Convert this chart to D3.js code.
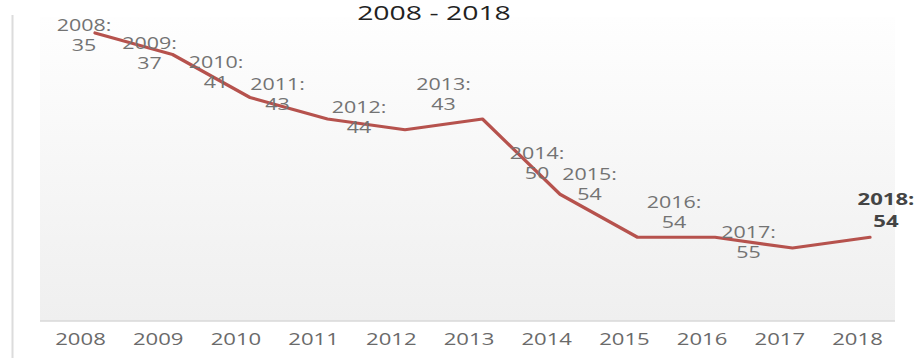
<!DOCTYPE html>
<html>
<head>
<meta charset="utf-8">
<script src="https://cdn.jsdelivr.net/npm/d3@7/dist/d3.min.js"></script>
<style>
  html, body { margin: 0; padding: 0; background: #ffffff; }
  svg { display: block; }
  text { font-family: "Open Sans", "Noto Sans", sans-serif; }
</style>
</head>
<body>
<svg id="chart" width="920" height="358"></svg>
<script>
// Ranking by year, 2008 - 2018
const years = [2008, 2009, 2010, 2011, 2012, 2013, 2014, 2015, 2016, 2017, 2018];
const ranks = [35, 37, 41, 43, 44, 43, 50, 54, 54, 55, 54];
const tickLabels = years.map(String);
const titleText = "2008 - 2018";

// Hand-placed nudges for the data labels (relative to each point)
const labelNudge = [
  [-11, -8], [-23, -11], [-34, -35], [-50, -35], [-46, -23], [-39, -35],
  [-23, -41], [-48, -63], [-41, -35], [-44, -16], [16, -39]
];

const W = 920, H = 358;
const textStretch = 1.34;
const svg = d3.select("#chart");

const plot = { left: 40, right: 895, top: 17, bottom: 321 };

// Background gradient of the plot area
const defs = svg.append("defs");
const grad = defs.append("linearGradient")
  .attr("id", "plotBg").attr("x1", 0).attr("y1", 0).attr("x2", 0).attr("y2", 1);
grad.append("stop").attr("offset", "0%").attr("stop-color", "#fefefe");
grad.append("stop").attr("offset", "100%").attr("stop-color", "#efefef");

svg.append("rect")
  .attr("x", plot.left).attr("y", plot.top)
  .attr("width", plot.right - plot.left).attr("height", plot.bottom - plot.top)
  .attr("fill", "url(#plotBg)");

// Left frame edge
svg.append("line")
  .attr("x1", 12.5).attr("x2", 12.5).attr("y1", 15).attr("y2", H)
  .attr("stroke", "#dcdcdc").attr("stroke-width", 2);

// Scales
const x = d3.scalePoint().domain(years).range([95, 870]);
const xLabel = d3.scalePoint().domain(years).range([80, 857]);
const y = d3.scaleLinear().domain([35, 55]).range([33, 248]);

// Category axis
const axis = d3.axisBottom(xLabel).tickSize(0).tickPadding(0)
  .tickFormat((d, i) => tickLabels[i]);
const axisG = svg.append("g").attr("transform", `translate(0,${plot.bottom})`).call(axis);
axisG.select(".domain").remove();
svg.append("line")
  .attr("x1", plot.left).attr("x2", plot.right)
  .attr("y1", plot.bottom).attr("y2", plot.bottom)
  .attr("stroke", "#d9d9d9").attr("stroke-width", 1.5);
axisG.selectAll(".tick text")
  .attr("y", 0).attr("dy", 0)
  .attr("transform", `translate(0,18) scale(${textStretch},1)`)
  .attr("dominant-baseline", "central")
  .attr("font-family", "'Open Sans', sans-serif")
  .attr("font-size", 16.5)
  .attr("fill", "#6a6a6a");

// Line
const line = d3.line()
  .x((d, i) => x(years[i]))
  .y(d => y(d));

svg.append("path")
  .datum(ranks)
  .attr("d", line)
  .attr("fill", "none")
  .attr("stroke", "#b6524d")
  .attr("stroke-width", 3.2)
  .attr("stroke-linejoin", "round")
  .attr("stroke-linecap", "round");

// Data labels: "year:" above the value
const labels = svg.append("g").selectAll("g")
  .data(ranks)
  .join("g")
  .attr("transform", (d, i) => {
    const cx = x(years[i]) + labelNudge[i][0];
    const cy = y(d) + labelNudge[i][1];
    return `translate(${cx},${cy}) scale(${textStretch},1)`;
  });

labels.each(function(d, i) {
  const g = d3.select(this);
  const last = i === ranks.length - 1;
  const t = g.append("text")
    .attr("text-anchor", "middle")
    .attr("font-size", last ? 16.5 : 16)
    .attr("font-weight", last ? 700 : 400)
    .attr("fill", last ? "#444444" : "#737373");
  t.append("tspan").attr("x", 0).attr("y", 0).attr("dominant-baseline", "central")
    .text(years[i] + ":");
  t.append("tspan").attr("x", 0).attr("y", last ? 22 : 20).attr("dominant-baseline", "central")
    .text(d);
});

// Title
svg.append("text")
  .attr("transform", `translate(434,20) scale(1.42,1)`)
  .attr("text-anchor", "middle")
  .attr("font-family", "'Liberation Sans', Arial, sans-serif")
  .attr("font-size", 20)
  .attr("fill", "#222222")
  .text(titleText);
</script>
</body>
</html>
